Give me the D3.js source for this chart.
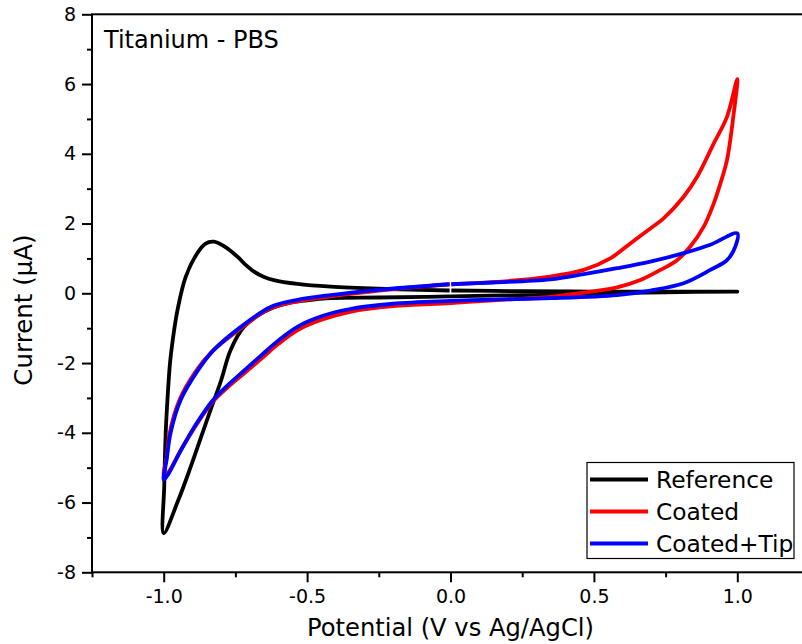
<!DOCTYPE html>
<html>
<head>
<meta charset="utf-8">
<script src="https://cdn.jsdelivr.net/npm/d3@7"></script>
<style>
  html, body { margin: 0; padding: 0; background: #fff; }
  svg { display: block; font-family: "DejaVu Sans", Verdana, sans-serif; }
</style>
</head>
<body>
<svg id="chart" width="802" height="644"></svg>
<script>
// Cyclic voltammograms of titanium in PBS (potential in V vs Ag/AgCl, current in µA).
// Each loop starts just right of 0 V on its upper branch and runs round the cycle.

const seriesNames = ["Reference", "Coated", "Coated+Tip"];
const seriesColors = ["#000000", "#ff0000", "#0000ff"];

const referenceV = [0.003, 0.25, 0.5, 0.75, 1.0,
  0.75, 0.5, 0.25, 0.0, -0.25, -0.418, -0.5, -0.57, -0.65, -0.72, -0.767, -0.8, -0.843, -0.906, -0.95, -1.0,
  -0.998, -0.993, -0.987, -0.978, -0.97, -0.952, -0.923, -0.883, -0.855, -0.825, -0.79, -0.743, -0.715, -0.685, -0.65, -0.616, -0.534, -0.418, -0.25, -0.003];
const referenceI = [0.08, 0.06, 0.05, 0.05, 0.05,
  0.03, 0.0, -0.05, -0.09, -0.12, -0.14, -0.2, -0.29, -0.53, -0.96, -1.63, -2.5, -3.49, -4.98, -5.95, -6.88,
  -5.5, -4.0, -3.06, -2.0, -1.43, -0.48, 0.48, 1.15, 1.42, 1.48, 1.35, 1.05, 0.82, 0.62, 0.47, 0.38, 0.27, 0.19, 0.13, 0.08];

const coatedV = [0.003, 0.15, 0.348, 0.465, 0.557, 0.627, 0.697, 0.743, 0.813, 0.86, 0.918, 0.964, 1.0,
  0.986, 0.964, 0.941, 0.918, 0.883, 0.836, 0.79, 0.732, 0.662, 0.581, 0.465, 0.348, 0.15, 0.0, -0.2, -0.35, -0.45, -0.534, -0.6, -0.66, -0.72, -0.78, -0.83, -0.883, -0.94, -0.987, -1.0,
  -0.991, -0.979, -0.945, -0.89, -0.83, -0.735, -0.63, -0.534, -0.418, -0.25, -0.003];
const coatedI = [0.26, 0.32, 0.48, 0.67, 1.0, 1.43, 1.86, 2.15, 2.77, 3.34, 4.3, 5.06, 6.14,
  5.06, 3.82, 3.15, 2.58, 1.91, 1.34, 0.95, 0.67, 0.38, 0.17, 0.02, -0.1, -0.2, -0.28, -0.37, -0.53, -0.76, -1.06, -1.45, -1.88, -2.3, -2.72, -3.12, -3.73, -4.49, -5.16, -5.2,
  -4.78, -4.0, -3.06, -2.26, -1.66, -1.03, -0.44, -0.23, -0.09, 0.08, 0.26];

const tipV = [0.003, 0.15, 0.348, 0.465, 0.581, 0.697, 0.813, 0.906, 1.0,
  0.993, 0.964, 0.906, 0.813, 0.697, 0.581, 0.348, 0.15, 0.0, -0.2, -0.35, -0.45, -0.534, -0.6, -0.66, -0.72, -0.78, -0.83, -0.883, -0.94, -0.985, -1.0,
  -0.99, -0.976, -0.941, -0.885, -0.826, -0.732, -0.627, -0.534, -0.418, -0.25, -0.003];
const tipI = [0.26, 0.31, 0.40, 0.55, 0.72, 0.91, 1.15, 1.39, 1.72,
  1.34, 0.95, 0.67, 0.29, 0.08, -0.05, -0.14, -0.18, -0.22, -0.3, -0.45, -0.66, -0.96, -1.35, -1.78, -2.22, -2.66, -3.08, -3.7, -4.5, -5.2, -5.35,
  -4.78, -4.0, -3.06, -2.26, -1.63, -0.97, -0.39, -0.19, -0.05, 0.1, 0.26];

const xMajorTicks = [-1.0, -0.5, 0.0, 0.5, 1.0];
const xMinorTicks = [-1.25, -0.75, -0.25, 0.25, 0.75, 1.25];
const yMajorTicks = [-8, -6, -4, -2, 0, 2, 4, 6, 8];
const yMinorTicks = [-7, -5, -3, -1, 1, 3, 5, 7];

const panelLabel = "Titanium - PBS";
const xTitle = "Potential (V vs Ag/AgCl)";
const yTitle = "Current (\u03BCA)";

const series = [
  { name: seriesNames[0], color: seriesColors[0], v: referenceV, i: referenceI },
  { name: seriesNames[1], color: seriesColors[1], v: coatedV, i: coatedI },
  { name: seriesNames[2], color: seriesColors[2], v: tipV, i: tipI }
];

const svg = d3.select("#chart");
const plotLeft = 92, plotRight = 809, plotTop = 14.3, plotBottom = 572.3;

const x = d3.scaleLinear().domain([-1.25, 1.25]).range([plotLeft, plotRight]);
const y = d3.scaleLinear().domain([-8, 8]).range([plotBottom, plotTop]);

const fmtX = d => d.toFixed(1);
const fmtY = d => String(d);

// Axes
function styleAxis(g) {
  g.select(".domain").remove();
  g.selectAll(".tick line").attr("stroke", "#000").attr("stroke-width", 2);
  g.selectAll(".tick text").attr("fill", "#000").attr("font-family", "DejaVu Sans").attr("font-size", 19);
}

svg.append("g").attr("transform", `translate(0,${plotBottom})`)
  .call(d3.axisBottom(x).tickValues(xMajorTicks).tickSize(10).tickPadding(7).tickFormat(fmtX))
  .call(styleAxis);
svg.append("g").attr("transform", `translate(0,${plotBottom})`)
  .call(d3.axisBottom(x).tickValues(xMinorTicks).tickSize(5).tickFormat(""))
  .call(styleAxis);
svg.append("g").attr("transform", `translate(${plotLeft},0)`)
  .call(d3.axisLeft(y).tickValues(yMajorTicks).tickSize(10).tickPadding(6).tickFormat(fmtY))
  .call(styleAxis);
svg.append("g").attr("transform", `translate(${plotLeft},0)`)
  .call(d3.axisLeft(y).tickValues(yMinorTicks).tickSize(5).tickFormat(""))
  .call(styleAxis);

// Plot frame
svg.append("rect")
  .attr("x", plotLeft).attr("y", plotTop)
  .attr("width", plotRight - plotLeft).attr("height", plotBottom - plotTop)
  .attr("fill", "none").attr("stroke", "#000").attr("stroke-width", 2);

// Curves
const line = d3.line()
  .x(d => x(d[0]))
  .y(d => y(d[1]))
  .curve(d3.curveCatmullRom.alpha(0.5));

series.forEach(s => {
  const pts = s.v.map((v, k) => [v, s.i[k]]);
  svg.append("path")
    .datum(pts)
    .attr("d", line)
    .attr("fill", "none")
    .attr("stroke", s.color)
    .attr("stroke-width", 3.8)
    .attr("stroke-linejoin", "round")
    .attr("stroke-linecap", "butt");
});

// Panel label
svg.append("text")
  .attr("x", 104).attr("y", 48)
  .attr("font-size", 24).attr("fill", "#000")
  .text(panelLabel);

// Axis titles
svg.append("text")
  .attr("x", x(0)).attr("y", 636)
  .attr("text-anchor", "middle")
  .attr("font-size", 24.2).attr("fill", "#000")
  .text(xTitle);

svg.append("text")
  .attr("transform", `translate(32,310) rotate(-90)`)
  .attr("text-anchor", "middle")
  .attr("font-size", 24.5).attr("fill", "#000")
  .text(yTitle);

// Legend
const legend = svg.append("g");
legend.append("rect")
  .attr("x", 587).attr("y", 462.5)
  .attr("width", 207).attr("height", 96)
  .attr("fill", "#fff").attr("stroke", "#000").attr("stroke-width", 1.2);

series.forEach((s, k) => {
  const cy = 479.5 + k * 32;
  legend.append("line")
    .attr("x1", 590).attr("x2", 648)
    .attr("y1", cy).attr("y2", cy)
    .attr("stroke", s.color).attr("stroke-width", 3.8);
  legend.append("text")
    .attr("x", 656).attr("y", cy + 8.5)
    .attr("font-size", 23.3).attr("fill", "#000")
    .text(s.name);
});
</script>
</body>
</html>
